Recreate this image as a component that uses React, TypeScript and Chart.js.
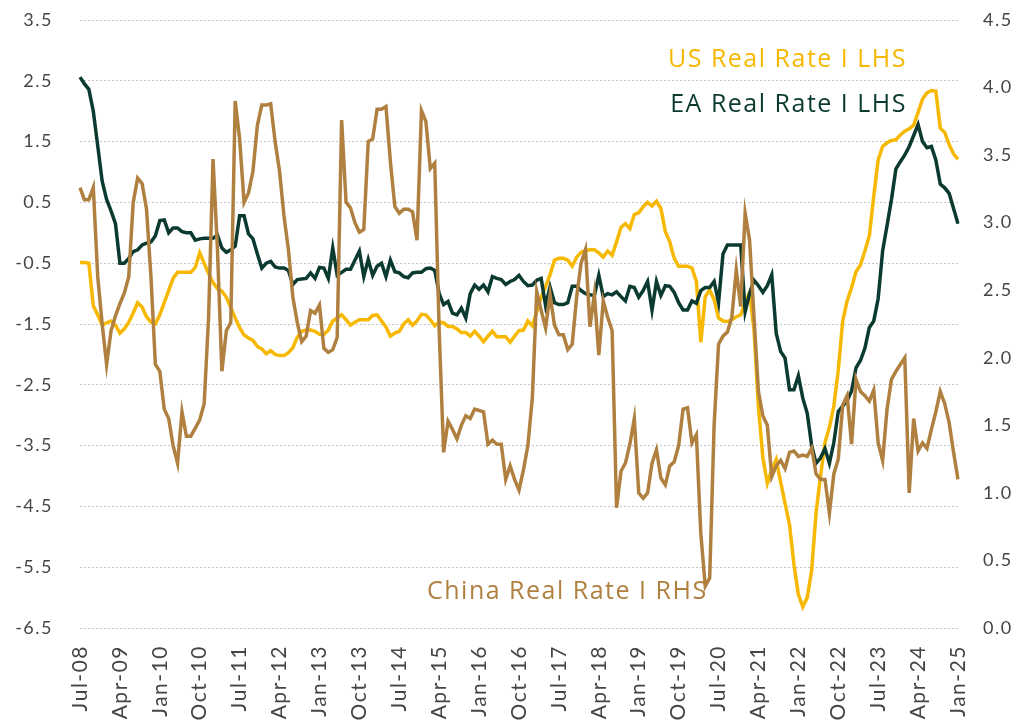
import { useEffect, useRef } from 'react';
import { Chart, registerables } from 'chart.js';

Chart.register(...registerables);

const MONTH_NAMES = ['Jan', 'Feb', 'Mar', 'Apr', 'May', 'Jun', 'Jul', 'Aug', 'Sep', 'Oct', 'Nov', 'Dec'];
const START_YEAR = 2008;
const START_MONTH = 6; // July
const N_MONTHS = 199; // Jul-08 .. Jan-25

const CATEGORIES: string[] = [];
for (let k = 0; k < N_MONTHS; k++) {
  const m = (START_MONTH + k) % 12;
  const y = START_YEAR + Math.floor((START_MONTH + k) / 12);
  CATEGORIES.push(`${MONTH_NAMES[m]}-${String(y % 100).padStart(2, '0')}`);
}

const TICK_LABELS = [
  'Jul-08', 'Apr-09', 'Jan-10', 'Oct-10', 'Jul-11', 'Apr-12', 'Jan-13', 'Oct-13',
  'Jul-14', 'Apr-15', 'Jan-16', 'Oct-16', 'Jul-17', 'Apr-18', 'Jan-19', 'Oct-19',
  'Jul-20', 'Apr-21', 'Jan-22', 'Oct-22', 'Jul-23', 'Apr-24', 'Jan-25',
];
const LEFT_TICKS = [3.5, 2.5, 1.5, 0.5, -0.5, -1.5, -2.5, -3.5, -4.5, -5.5, -6.5];
const RIGHT_TICKS = [4.5, 4.0, 3.5, 3.0, 2.5, 2.0, 1.5, 1.0, 0.5, 0.0];

// US real rate (LHS)
const US_REAL_RATE = [
  -0.49, -0.49, -0.5, -1.2, -1.35, -1.52, -1.48, -1.45, -1.52, -1.65,
  -1.58, -1.47, -1.32, -1.15, -1.22, -1.38, -1.47, -1.5, -1.35, -1.15,
  -0.95, -0.75, -0.65, -0.65, -0.65, -0.65, -0.57, -0.33, -0.5, -0.67,
  -0.82, -0.92, -0.96, -1.06, -1.23, -1.4, -1.56, -1.68, -1.73, -1.77,
  -1.87, -1.91, -1.99, -1.94, -2.0, -2.02, -2.02, -1.97, -1.89, -1.72,
  -1.62, -1.6, -1.6, -1.62, -1.67, -1.67, -1.6, -1.45, -1.4, -1.35,
  -1.43, -1.52, -1.47, -1.43, -1.43, -1.43, -1.36, -1.35, -1.45, -1.55,
  -1.7, -1.65, -1.62, -1.5, -1.43, -1.52, -1.45, -1.34, -1.35, -1.43,
  -1.53, -1.47, -1.48, -1.54, -1.54, -1.58, -1.64, -1.64, -1.7, -1.62,
  -1.7, -1.79, -1.7, -1.62, -1.71, -1.71, -1.71, -1.8, -1.7, -1.61,
  -1.6, -1.45, -1.53, -1.3, -1.06, -0.88, -0.69, -0.45, -0.42, -0.42,
  -0.45, -0.55, -0.4, -0.32, -0.29, -0.28, -0.28, -0.33, -0.4, -0.3,
  -0.37, -0.15, 0.09, 0.15, 0.07, 0.3, 0.33, 0.43, 0.5, 0.44,
  0.52, 0.4, 0.02, -0.15, -0.42, -0.55, -0.55, -0.55, -0.58, -0.8,
  -1.8, -1.05, -0.94, -1.1, -1.4, -1.45, -1.46, -1.43, -1.38, -1.35,
  -1.15, -0.98, -1.6, -2.87, -3.7, -4.12, -3.9, -3.73, -4.1, -4.45,
  -4.8, -5.45, -5.95, -6.15, -6.0, -5.55, -4.6, -4.0, -3.45, -3.2,
  -2.85, -2.26, -1.45, -1.12, -0.9, -0.64, -0.53, -0.3, -0.05, 0.6,
  1.2, 1.42, 1.48, 1.52, 1.53, 1.61, 1.67, 1.71, 1.77, 1.98,
  2.2, 2.3, 2.34, 2.33, 1.72, 1.65, 1.45, 1.3, 1.21,
];

// Euro area real rate (LHS)
const EA_REAL_RATE = [
  2.56, 2.45, 2.36, 2.0, 1.43, 0.85, 0.55, 0.36, 0.15, -0.5,
  -0.5, -0.42, -0.31, -0.28, -0.2, -0.17, -0.15, -0.05, 0.2, 0.21,
  0.0, 0.08, 0.08, 0.02, 0.0, 0.0, -0.12, -0.1, -0.09, -0.09,
  -0.09, -0.04, -0.25, -0.32, -0.28, -0.22, 0.28, 0.28, -0.02, -0.1,
  -0.35, -0.58, -0.5, -0.47, -0.56, -0.58, -0.58, -0.62, -0.85, -0.77,
  -0.76, -0.75, -0.66, -0.75, -0.57, -0.58, -0.75, -0.25, -0.7, -0.65,
  -0.6, -0.6, -0.45, -0.3, -0.72, -0.44, -0.7, -0.55, -0.5, -0.72,
  -0.45, -0.64, -0.66, -0.72, -0.74, -0.66, -0.65, -0.65, -0.59, -0.58,
  -0.62, -1.0, -1.18, -1.13, -1.32, -1.35, -1.24, -1.4, -1.0, -0.86,
  -0.93, -0.86, -0.97, -0.72, -0.75, -0.77, -0.85, -0.8, -0.77, -0.7,
  -0.8, -0.87, -0.86, -0.78, -0.75, -1.2, -0.89, -1.15, -1.18, -1.18,
  -1.15, -0.88, -0.88, -0.95, -1.0, -1.02, -1.03, -0.7, -1.05, -1.0,
  -1.02, -0.97, -1.05, -1.12, -0.88, -0.9, -1.06, -0.95, -0.8, -1.27,
  -0.8, -1.03, -0.87, -0.88, -0.98, -1.15, -1.27, -1.27, -1.12, -1.16,
  -0.95, -0.9, -0.9, -0.8, -1.15, -0.35, -0.2, -0.2, -0.2, -0.2,
  -1.3, -1.0, -0.78, -0.87, -0.98, -0.87, -0.69, -1.65, -1.95, -2.06,
  -2.58, -2.58, -2.35, -2.72, -2.97, -3.5, -3.79, -3.7, -3.55, -3.79,
  -3.45, -2.94, -2.85, -2.76, -2.6, -2.22, -2.1, -1.9, -1.56, -1.45,
  -1.08, -0.3, 0.12, 0.55, 1.05, 1.17, 1.28, 1.42, 1.6, 1.78,
  1.5, 1.4, 1.42, 1.2, 0.8, 0.74, 0.65, 0.4, 0.15,
];

// China real rate (RHS)
const CHINA_REAL_RATE = [
  3.26, 3.17, 3.17, 3.26, 2.6, 2.25, 1.95, 2.2, 2.31, 2.4,
  2.48, 2.6, 3.15, 3.33, 3.29, 3.1, 2.6, 1.95, 1.9, 1.62,
  1.55, 1.35, 1.22, 1.6, 1.42, 1.42, 1.48, 1.54, 1.66, 2.3,
  3.47, 2.8, 1.9, 2.2, 2.26, 3.9, 3.62, 3.15, 3.22, 3.38,
  3.72, 3.87, 3.87, 3.88, 3.6, 3.38, 3.05, 2.8, 2.45, 2.26,
  2.12, 2.16, 2.35, 2.33, 2.39, 2.07, 2.04, 2.06, 2.15, 3.76,
  3.15, 3.11, 3.0, 2.93, 2.95, 3.6, 3.62, 3.84, 3.84, 3.86,
  3.45, 3.12, 3.07, 3.1, 3.1, 3.08, 2.87, 3.83, 3.75, 3.4,
  3.44, 2.2, 1.3, 1.53, 1.47, 1.4, 1.5, 1.57, 1.55, 1.62,
  1.61, 1.6, 1.36, 1.39, 1.36, 1.36, 1.1, 1.2, 1.1, 1.02,
  1.17, 1.35, 1.7, 2.49, 2.35, 2.22, 2.47, 2.24, 2.17, 2.17,
  2.06, 2.1, 2.45, 2.7, 2.8, 2.23, 2.47, 2.02, 2.42, 2.3,
  2.2, 0.89, 1.16, 1.22, 1.36, 1.55, 1.0, 0.96, 1.0, 1.22,
  1.32, 1.11, 1.06, 1.2, 1.23, 1.35, 1.62, 1.63, 1.37, 1.43,
  0.7, 0.31, 0.37, 1.5, 2.1, 2.16, 2.19, 2.3, 2.65, 2.38,
  3.07, 2.87, 2.3, 1.75, 1.57, 1.5, 1.12, 1.2, 1.24, 1.18,
  1.3, 1.31, 1.27, 1.28, 1.27, 1.33, 1.14, 1.1, 1.1, 0.85,
  1.14, 1.25, 1.65, 1.72, 1.36, 1.84, 1.75, 1.72, 1.68, 1.76,
  1.37, 1.24, 1.62, 1.84, 1.9, 1.95, 2.0, 1.0, 1.55, 1.31,
  1.37, 1.33, 1.47, 1.6, 1.75, 1.66, 1.52, 1.3, 1.1,
];

const SERIES_NAMES = ['US Real Rate I LHS', 'EA Real Rate I LHS', 'China Real Rate I RHS'];

const COLOR_US = '#F6B800';
const COLOR_EA = '#0B3A31';
const COLOR_CN = '#B08040';
const TICK_COLOR = '#454545';
const GRID_COLOR = '#c4c4c4';
const TICK_FONT = 'Lato';
const LABEL_FONT = '"Open Sans"';

const tickSet = new Set(TICK_LABELS);

const letterSpacingPlugin = {
  id: 'tickLetterSpacing',
  beforeDraw(chart: any) {
    (chart.ctx as any).letterSpacing = '1.5px';
  },
  afterDraw(chart: any) {
    (chart.ctx as any).letterSpacing = '0px';
  },
};

const seriesLabelPlugin = {
  id: 'seriesLabels',
  afterDraw(chart: any) {
    const ctx = chart.ctx as CanvasRenderingContext2D;
    ctx.save();
    (ctx as any).letterSpacing = '1.5px';
    ctx.font = `400 25px ${LABEL_FONT}`;
    ctx.textBaseline = 'alphabetic';
    ctx.textAlign = 'right';
    ctx.fillStyle = COLOR_US;
    ctx.fillText(SERIES_NAMES[0], 907, 67);
    ctx.fillStyle = COLOR_EA;
    ctx.fillText(SERIES_NAMES[1], 907, 112);
    ctx.textAlign = 'left';
    ctx.fillStyle = COLOR_CN;
    ctx.fillText(SERIES_NAMES[2], 427, 599);
    ctx.restore();
  },
};

const noVerticalPadding = (s: any) => {
  s.paddingTop = 0;
  s.paddingBottom = 0;
};

export default function App() {
  const canvasRef = useRef<HTMLCanvasElement>(null);

  useEffect(() => {
    const canvas = canvasRef.current;
    if (!canvas) return;
    const chart = new Chart(canvas, {
      type: 'line',
      data: {
        labels: CATEGORIES,
        datasets: [
          {
            label: SERIES_NAMES[2],
            data: CHINA_REAL_RATE,
            yAxisID: 'y1',
            borderColor: COLOR_CN,
            backgroundColor: COLOR_CN,
            borderWidth: 3.5,
            pointRadius: 0,
            tension: 0,
            order: 0,
          },
          {
            label: SERIES_NAMES[1],
            data: EA_REAL_RATE,
            yAxisID: 'y',
            borderColor: COLOR_EA,
            backgroundColor: COLOR_EA,
            borderWidth: 3.5,
            pointRadius: 0,
            tension: 0,
            order: 1,
          },
          {
            label: SERIES_NAMES[0],
            data: US_REAL_RATE,
            yAxisID: 'y',
            borderColor: COLOR_US,
            backgroundColor: COLOR_US,
            borderWidth: 3.5,
            pointRadius: 0,
            tension: 0,
            order: 2,
          },
        ],
      },
      options: {
        animation: false,
        responsive: true,
        maintainAspectRatio: false,
        devicePixelRatio: 1,
        layout: { padding: { top: 20, left: 0, right: 0, bottom: 0 }, autoPadding: false },
        plugins: {
          legend: { display: false },
          tooltip: { enabled: false },
        },
        scales: {
          x: {
            type: 'category',
            offset: false,
            grid: { display: false, drawTicks: false },
            border: { display: false },
            ticks: {
              autoSkip: false,
              minRotation: 90,
              maxRotation: 90,
              padding: 17,
              color: TICK_COLOR,
              font: { family: TICK_FONT, size: 21 },
              callback: (_v: any, idx: number) => (tickSet.has(CATEGORIES[idx]) ? CATEGORIES[idx] : null),
            },
            afterFit: (s: any) => {
              s.height = 93;
            },
          },
          y: {
            position: 'left',
            min: -6.5,
            max: 3.5,
            grid: { color: GRID_COLOR, lineWidth: 1, drawTicks: false },
            border: { display: false, dash: [2, 2] },
            ticks: {
              padding: 27,
              color: TICK_COLOR,
              font: { family: TICK_FONT, size: 18 },
              callback: (v: any) => Number(v).toFixed(1),
            },
            afterBuildTicks: (s: any) => {
              s.ticks = LEFT_TICKS.map((v) => ({ value: v }));
            },
            afterFit: (s: any) => {
              s.width = 80;
              noVerticalPadding(s);
            },
          },
          y1: {
            position: 'right',
            min: 0,
            max: 4.5,
            grid: { display: false, drawTicks: false },
            border: { display: false },
            ticks: {
              padding: 25,
              color: TICK_COLOR,
              font: { family: TICK_FONT, size: 18 },
              callback: (v: any) => Number(v).toFixed(1),
            },
            afterBuildTicks: (s: any) => {
              s.ticks = RIGHT_TICKS.map((v) => ({ value: v }));
            },
            afterFit: (s: any) => {
              s.width = 65;
              noVerticalPadding(s);
            },
          },
        },
      },
      plugins: [letterSpacingPlugin, seriesLabelPlugin],
    });
    return () => chart.destroy();
  }, []);

  return (
    <div style={{ position: 'fixed', left: 0, top: 0, width: 1023, height: 721, background: '#ffffff' }}>
      <canvas ref={canvasRef} />
    </div>
  );
}
